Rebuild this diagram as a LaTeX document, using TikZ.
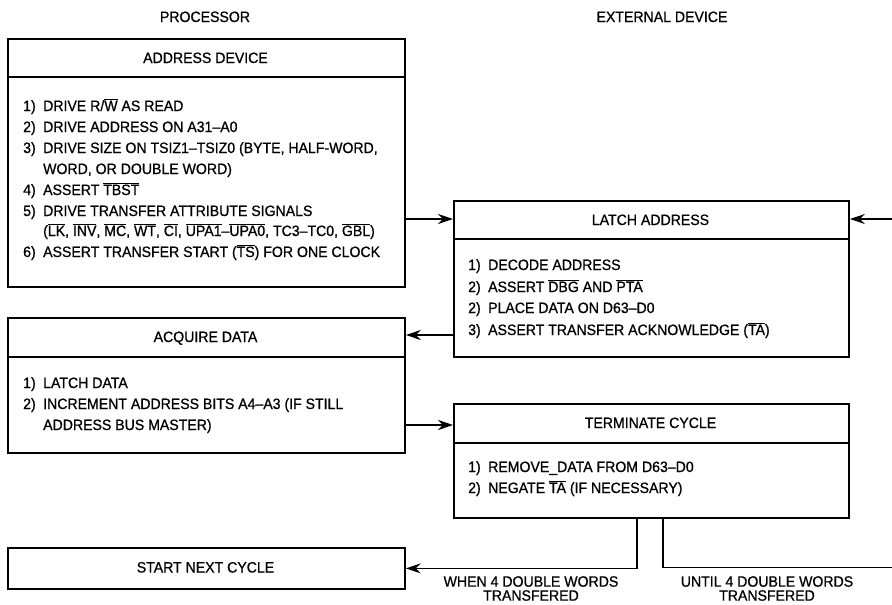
\documentclass[tikz,border=0pt]{standalone}
\usepackage{fontspec}
\setmainfont{Liberation Sans}[FakeStretch=0.94,FakeBold=0.8]
\usetikzlibrary{arrows.meta}
\newcommand\ovl[1]{\ensuremath{\overline{\mbox{#1}}}}
\newcommand\itm[1]{\makebox[20pt][l]{#1}}
\begin{document}
\begin{tikzpicture}[x=1pt,y=-1pt,
  every node/.style={inner sep=0pt, font=\fontsize{15}{15}\selectfont},
  boxstyle/.style={draw, line width=1.8pt, anchor=north west, inner sep=0pt},
  divline/.style={line width=1.6pt},
  conn/.style={line width=1.4pt},
  arr/.style={conn, -{Stealth[length=15pt,width=10pt,inset=5pt]}},
  txt/.style={anchor=base west},
  ttl/.style={anchor=base},
  lbl/.style={anchor=north, align=center, font=\fontsize{15}{14}\selectfont}]
\useasboundingbox (0,0) rectangle (892,605);

% column headings
\node[ttl] (hp) at (205,22) {PROCESSOR};
\node[ttl] (he) at (662,22) {EXTERNAL DEVICE};

% boxes
\node[boxstyle, minimum width=397pt, minimum height=248pt] (ad) at (7,38) {};
\node[boxstyle, minimum width=395pt, minimum height=156pt] (la) at (453,200) {};
\node[boxstyle, minimum width=397pt, minimum height=135pt] (aq) at (7,317) {};
\node[boxstyle, minimum width=395pt, minimum height=114pt] (tc) at (453,403) {};
\node[boxstyle, minimum width=397pt, minimum height=41pt] (sn) at (7,547) {};

% dividers
\draw[divline] (ad.west |- 0,77) -- (ad.east |- 0,77);
\draw[divline] (la.west |- 0,239) -- (la.east |- 0,239);
\draw[divline] (aq.west |- 0,357) -- (aq.east |- 0,357);
\draw[divline] (tc.west |- 0,443) -- (tc.east |- 0,443);

% titles
\node[ttl] (tad) at (205.5,63) {ADDRESS DEVICE};
\node[ttl] (tla) at (650.5,225) {LATCH ADDRESS};
\node[ttl] (taq) at (205.5,342) {ACQUIRE DATA};
\node[ttl] (ttc) at (650.5,428) {TERMINATE CYCLE};
\node[ttl] (tsn) at (205.5,572.5) {START NEXT CYCLE};

% address device items
\node[txt] (a1) at (23,111) {\itm{1)}DRIVE R/\ovl{W} AS READ};
\node[txt] (a2) at (23,132) {\itm{2)}DRIVE ADDRESS ON A31--A0};
\node[txt] (a3) at (23,153) {\itm{3)}DRIVE SIZE ON TSIZ1--TSIZ0 (BYTE, HALF-WORD,};
\node[txt] (a4) at (23,174) {\itm{}WORD, OR DOUBLE WORD)};
\node[txt] (a5) at (23,195) {\itm{4)}ASSERT \ovl{TBST}};
\node[txt] (a6) at (23,216) {\itm{5)}DRIVE TRANSFER ATTRIBUTE SIGNALS};
\node[txt] (a7) at (23,236) {\itm{}(\ovl{LK}, \ovl{INV}, \ovl{MC}, \ovl{WT}, \ovl{CI}, \ovl{UPA1}--\ovl{UPA0}, TC3--TC0, \ovl{GBL})};
\node[txt] (a8) at (23,257) {\itm{6)}ASSERT TRANSFER START (\ovl{TS}) FOR ONE CLOCK};

% latch address items
\node[txt] (l1) at (468,270) {\itm{1)}DECODE ADDRESS};
\node[txt] (l2) at (468,292) {\itm{2)}ASSERT \ovl{DBG} AND \ovl{PTA}};
\node[txt] (l3) at (468,313) {\itm{2)}PLACE DATA ON D63--D0};
\node[txt] (l4) at (468,335) {\itm{3)}ASSERT TRANSFER ACKNOWLEDGE (\ovl{TA})};

% acquire data items
\node[txt] (q1) at (23,388) {\itm{1)}LATCH DATA};
\node[txt] (q2) at (23,409) {\itm{2)}INCREMENT ADDRESS BITS A4--A3 (IF STILL};
\node[txt] (q3) at (23,430) {\itm{}ADDRESS BUS MASTER)};

% terminate cycle items
\node[txt] (c1) at (468,472) {\itm{1)}REMOVE\_DATA FROM D63--D0};
\node[txt] (c2) at (468,493) {\itm{2)}NEGATE \ovl{TA} (IF NECESSARY)};

% branch labels
\node[lbl] (lw) at (531,576) {WHEN 4 DOUBLE WORDS\\TRANSFERED};
\node[lbl] (lu) at (767,576) {UNTIL 4 DOUBLE WORDS\\TRANSFERED};

% connectors
\coordinate (rin) at (892,219);
\coordinate (rout) at (892,567.5);
\coordinate (xw) at (637,0);
\coordinate (xu) at (663,0);
\draw[arr] (ad.east |- 0,219) -- (la.west |- 0,219);
\draw[arr] (rin) -- (la.east |- rin);
\draw[arr] (la.west |- 0,335) -- (aq.east |- 0,335);
\draw[arr] (aq.east |- 0,425) -- (tc.west |- 0,425);
\draw[arr] (tc.south -| xw) |- (sn.east);
\draw[conn] (tc.south -| xu) |- (rout);
\end{tikzpicture}
\end{document}
